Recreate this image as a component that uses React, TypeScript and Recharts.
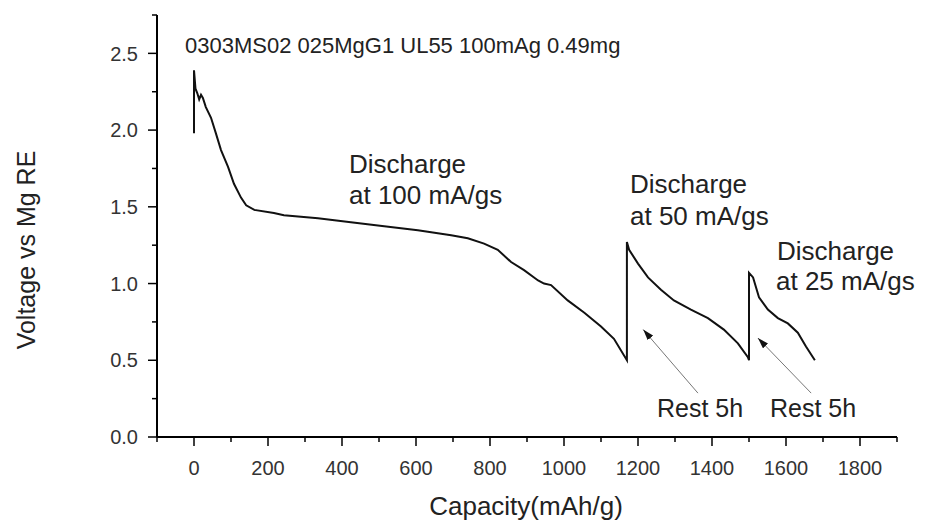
// Discharge curve of the Mg cell: voltage vs capacity, three rates with rests.

import React from "react";
import { LineChart, Line, XAxis, YAxis, ReferenceLine } from "recharts";

const capacity = [
  0, 0, 4, 9, 14, 19, 24, 32, 46, 59, 73, 92, 108, 127, 141, 163, 216, 243,
  335, 424, 514, 605, 695, 740, 784, 821, 857, 892, 930, 946, 965, 1010, 1055,
  1100, 1135, 1170, 1170, 1176, 1200, 1227, 1262, 1297, 1343, 1389, 1432, 1470,
  1497, 1500, 1500, 1511, 1527, 1551, 1578, 1605, 1632, 1654, 1678,
];
const voltage = [
  1.98, 2.39, 2.27, 2.24, 2.2, 2.23, 2.21, 2.15, 2.08, 1.98, 1.87, 1.76, 1.65,
  1.56, 1.51, 1.48, 1.46, 1.445, 1.426, 1.4, 1.374, 1.348, 1.315, 1.295, 1.26,
  1.22, 1.14, 1.087, 1.02, 1.0, 0.99, 0.89, 0.81, 0.72, 0.64, 0.5, 1.27, 1.22,
  1.13, 1.04, 0.96, 0.89, 0.83, 0.775, 0.7, 0.61, 0.52, 0.5, 1.07, 1.04, 0.91,
  0.83, 0.775, 0.74, 0.68, 0.59, 0.5,
];

const xTicks = [
  -100, 0, 100, 200, 300, 400, 500, 600, 700, 800, 900, 1000, 1100, 1200, 1300,
  1400, 1500, 1600, 1700, 1800, 1900,
];
const yTicks = [0, 0.25, 0.5, 0.75, 1, 1.25, 1.5, 1.75, 2, 2.25, 2.5, 2.75];

const title = "0303MS02 025MgG1 UL55 100mAg 0.49mg";
const xLabel = "Capacity(mAh/g)";
const yLabel = "Voltage vs Mg RE";

// rest arrows: tail (near the "Rest 5h" text) -> head (at the curve)
const arrowTails = [
  [1362, 0.286],
  [1668, 0.286],
];
const arrowHeads = [
  [1214, 0.7],
  [1524, 0.645],
];

const data = capacity.map((c, i) => ({ c, v: voltage[i] }));

const FONT = "'Liberation Sans', Arial, sans-serif";

function XTick(props: any) {
  const { x, y, payload } = props;
  const v = payload.value as number;
  const major = v % 200 === 0;
  return (
    <g>
      <line x1={x} x2={x} y1={y} y2={y + (major ? 9 : 5)} stroke="#000" strokeWidth={1.5} />
      {major && (
        <text x={x} y={y + 38} textAnchor="middle" fontSize={20} fill="#333" fontFamily={FONT}>
          {v}
        </text>
      )}
    </g>
  );
}

function YTick(props: any) {
  const { x, y, payload } = props;
  const v = payload.value as number;
  const major = Math.abs(v * 2 - Math.round(v * 2)) < 1e-6;
  return (
    <g>
      <line x1={x - (major ? 9 : 5)} x2={x} y1={y} y2={y} stroke="#000" strokeWidth={1.5} />
      {major && (
        <text x={x - 19} y={y} dy="0.36em" textAnchor="end" fontSize={20} fill="#333" fontFamily={FONT}>
          {v.toFixed(1)}
        </text>
      )}
    </g>
  );
}

export default function App() {
  return (
    <div style={{ position: "absolute", left: 0, top: 0, background: "#fff" }}>
      <LineChart
        width={925}
        height={523}
        data={data}
        margin={{ top: 15, right: 28, bottom: 0, left: 0 }}
        style={{ fontFamily: FONT }}
      >
        <defs>
          <marker
            id="arrowHead"
            viewBox="0 0 11 7"
            refX={11}
            refY={3.5}
            markerWidth={11}
            markerHeight={7}
            markerUnits="userSpaceOnUse"
            orient="auto"
          >
            <path d="M0,0 L11,3.5 L0,7 z" fill="#111" />
          </marker>
        </defs>
        <XAxis
          dataKey="c"
          type="number"
          domain={[-100, 1900]}
          ticks={xTicks}
          interval={0}
          height={86}
          tickLine={false}
          tickSize={0}
          tickMargin={0}
          axisLine={{ stroke: "#000", strokeWidth: 2 }}
          tick={<XTick />}
        />
        <YAxis
          type="number"
          domain={[0, 2.75]}
          ticks={yTicks}
          interval={0}
          width={157}
          tickLine={false}
          tickSize={0}
          tickMargin={0}
          axisLine={{ stroke: "#000", strokeWidth: 2 }}
          tick={<YTick />}
        />
        {arrowTails.map((t, i) => (
          <ReferenceLine
            key={i}
            segment={[
              { x: t[0], y: t[1] },
              { x: arrowHeads[i][0], y: arrowHeads[i][1] },
            ]}
            stroke="#777"
            strokeWidth={1}
            markerEnd="url(#arrowHead)"
          />
        ))}
        <Line
          type="linear"
          dataKey="v"
          stroke="#111"
          strokeWidth={2}
          dot={false}
          isAnimationActive={false}
        />
        <text x={185} y={53} fontSize={22} fill="#222" fontFamily={FONT}>
          {title}
        </text>
        <text x={349} y={173} fontSize={26} fill="#222" fontFamily={FONT}>
          <tspan x={349}>Discharge</tspan>
          <tspan x={349} y={204}>at 100 mA/gs</tspan>
        </text>
        <text x={630} y={193} fontSize={26} fill="#222" fontFamily={FONT}>
          <tspan x={630}>Discharge</tspan>
          <tspan x={630} y={225}>at 50 mA/gs</tspan>
        </text>
        <text x={777} y={260} fontSize={26} fill="#222" fontFamily={FONT}>
          <tspan x={777}>Discharge</tspan>
          <tspan x={776} y={290}>at 25 mA/gs</tspan>
        </text>
        <text x={657} y={417} fontSize={25} fill="#222" fontFamily={FONT}>
          Rest 5h
        </text>
        <text x={770} y={417} fontSize={25} fill="#222" fontFamily={FONT}>
          Rest 5h
        </text>
        <text x={526} y={515} textAnchor="middle" fontSize={26} fill="#222" fontFamily={FONT}>
          {xLabel}
        </text>
        <text
          x={35}
          y={250}
          textAnchor="middle"
          fontSize={25}
          fill="#222"
          fontFamily={FONT}
          transform="rotate(-90 35 250)"
        >
          {yLabel}
        </text>
      </LineChart>
    </div>
  );
}
